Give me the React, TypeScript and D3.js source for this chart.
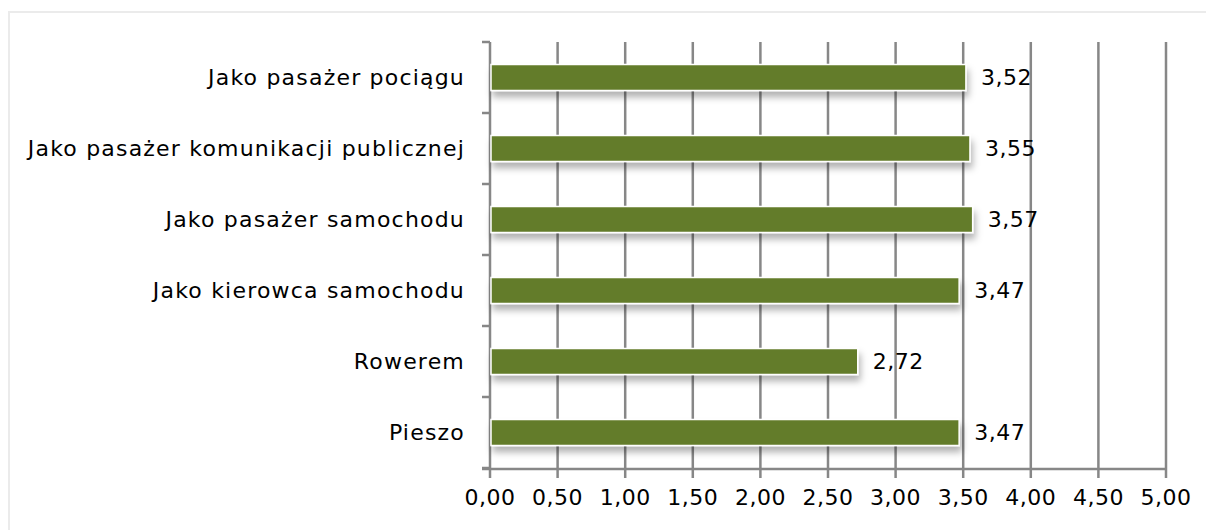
import React, { useRef, useEffect } from 'react';
import * as d3 from 'd3';

const CATEGORIES = [
  'Jako pasażer pociągu',
  'Jako pasażer komunikacji publicznej',
  'Jako pasażer samochodu',
  'Jako kierowca samochodu',
  'Rowerem',
  'Pieszo',
];
const VALUES = [3.52, 3.55, 3.57, 3.47, 2.72, 3.47];
const X_TICKS = [0, 0.5, 1, 1.5, 2, 2.5, 3, 3.5, 4, 4.5, 5];

const fmt = (v: number) => v.toFixed(2).replace('.', ',');

export default function App() {
  const svgRef = useRef<SVGSVGElement>(null);

  useEffect(() => {
    const width = 1206;
    const height = 530;
    const svg = d3.select(svgRef.current);
    svg.selectAll('*').remove();
    svg.attr('width', width).attr('height', height);

    const font = '"DejaVu Sans", Verdana, sans-serif';
    const gridColor = '#878787';

    // frame
    svg.append('rect')
      .attr('x', 9).attr('y', 12)
      .attr('width', width).attr('height', height)
      .attr('fill', 'white')
      .attr('stroke', '#ebebeb')
      .attr('stroke-width', 2);

    const defs = svg.append('defs');
    const filter = defs.append('filter')
      .attr('id', 'shadow')
      .attr('x', '-5%').attr('y', '-50%')
      .attr('width', '110%').attr('height', '220%');
    filter.append('feDropShadow')
      .attr('dx', 2).attr('dy', 6)
      .attr('stdDeviation', 3.5)
      .attr('flood-color', '#000')
      .attr('flood-opacity', 0.3);

    const x = d3.scaleLinear().domain([0, 5]).range([490, 1166]);
    const y = d3.scaleBand<string>().domain(CATEGORIES).range([42, 468]);

    const top = 42;
    const axisY = 469;

    // vertical grid + ticks
    svg.append('g')
      .selectAll('line')
      .data(X_TICKS.slice(1))
      .join('line')
      .attr('x1', (d) => x(d)).attr('x2', (d) => x(d))
      .attr('y1', top).attr('y2', axisY + 9)
      .attr('stroke', gridColor)
      .attr('stroke-width', 2.5);

    // left axis
    svg.append('line')
      .attr('x1', x(0)).attr('x2', x(0))
      .attr('y1', top).attr('y2', axisY + 9)
      .attr('stroke', gridColor).attr('stroke-width', 2.5);

    // category ticks
    const bandEdges = CATEGORIES.map((c) => y(c) as number).concat([468]);
    svg.append('g')
      .selectAll('line')
      .data(bandEdges)
      .join('line')
      .attr('x1', x(0) - 8).attr('x2', x(0))
      .attr('y1', (d) => d).attr('y2', (d) => d)
      .attr('stroke', gridColor).attr('stroke-width', 2.5);

    // bottom axis
    svg.append('line')
      .attr('x1', x(0) - 8).attr('x2', x(5) + 1)
      .attr('y1', axisY).attr('y2', axisY)
      .attr('stroke', gridColor).attr('stroke-width', 2.5);

    // bars
    const barH = 26;
    svg.append('g')
      .selectAll('rect')
      .data(VALUES)
      .join('rect')
      .attr('x', x(0) + 1)
      .attr('y', (_, i) => (y(CATEGORIES[i]) as number) + y.bandwidth() / 2 - barH / 2)
      .attr('width', (d) => x(d) - x(0) - 1)
      .attr('height', barH)
      .attr('fill', '#647c2a')
      .attr('stroke', 'white')
      .attr('stroke-width', 1.5)
      .attr('filter', 'url(#shadow)');

    // value labels
    svg.append('g')
      .selectAll('text')
      .data(VALUES)
      .join('text')
      .attr('x', (d) => x(d) + 15)
      .attr('y', (_, i) => (y(CATEGORIES[i]) as number) + y.bandwidth() / 2)
      .attr('dy', '0.36em')
      .attr('font-family', font)
      .attr('font-size', 22)
      .attr('letter-spacing', 0.5)
      .attr('fill', '#000')
      .text((d) => fmt(d));

    // category labels
    svg.append('g')
      .selectAll('text')
      .data(CATEGORIES)
      .join('text')
      .attr('x', 465)
      .attr('y', (d) => (y(d) as number) + y.bandwidth() / 2)
      .attr('dy', '0.36em')
      .attr('text-anchor', 'end')
      .attr('font-family', font)
      .attr('font-size', 22)
      .attr('letter-spacing', 1.2)
      .attr('fill', '#000')
      .text((d) => d);

    // x tick labels
    svg.append('g')
      .selectAll('text')
      .data(X_TICKS)
      .join('text')
      .attr('x', (d) => x(d))
      .attr('y', 497)
      .attr('dy', '0.36em')
      .attr('text-anchor', 'middle')
      .attr('font-family', font)
      .attr('font-size', 22)
      .attr('letter-spacing', 0.5)
      .attr('fill', '#000')
      .text((d) => fmt(d));
  }, []);

  return (
    <div style={{ position: 'absolute', left: 0, top: 0 }}>
      <svg ref={svgRef} style={{ display: 'block' }} />
    </div>
  );
}
